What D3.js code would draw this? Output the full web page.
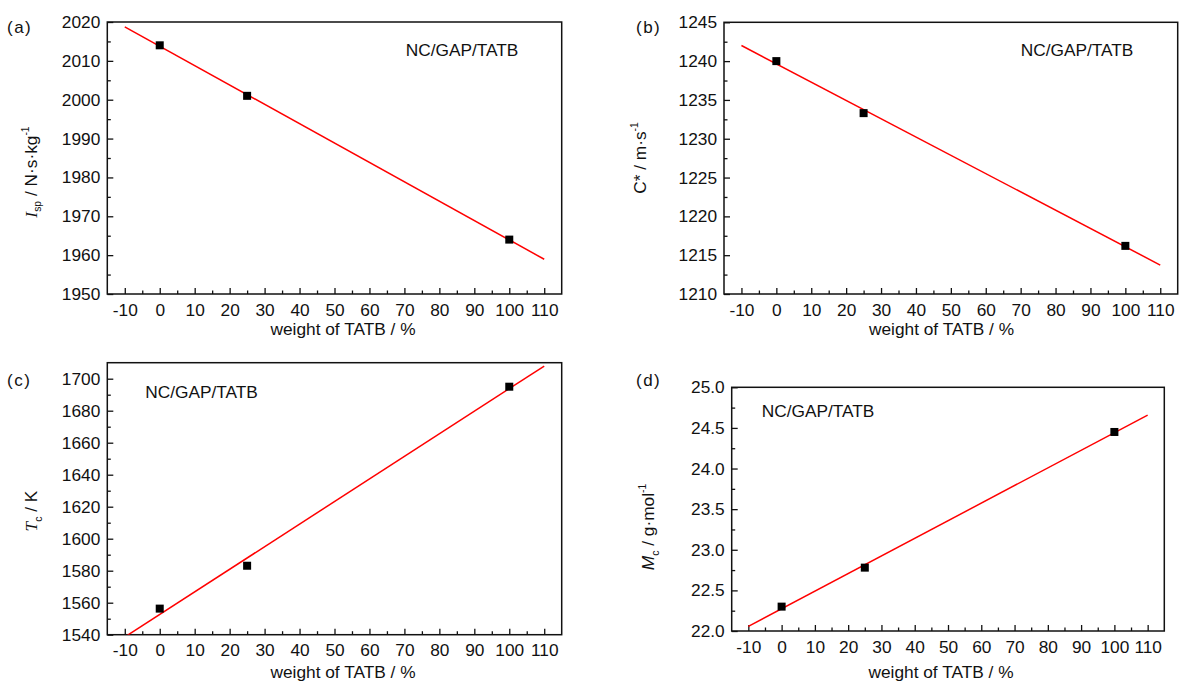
<!DOCTYPE html>
<html>
<head>
<meta charset="utf-8">
<script src="https://cdn.jsdelivr.net/npm/d3@7"></script>
<style>
  body { margin: 0; background: #fff; }
  svg text { font-family: "Liberation Sans", Arial, sans-serif; fill: #111; }
</style>
</head>
<body>
<svg id="chart" width="1179" height="686"></svg>
<script>
// data
var weights = [0, 25, 100];
var isp = [2014, 2001, 1964];
var cStar = [1240, 1233.3, 1216.2];
var tc = [1556.3, 1583.1, 1695];
var mc = [22.3, 22.78, 24.45];

var xTicks = [-10, 0, 10, 20, 30, 40, 50, 60, 70, 80, 90, 100, 110];
var xMinor = [-5, 5, 15, 25, 35, 45, 55, 65, 75, 85, 95, 105];
var fitRange = [-10, 110];

var ispTicks = [1950, 1960, 1970, 1980, 1990, 2000, 2010, 2020];
var cStarTicks = [1210, 1215, 1220, 1225, 1230, 1235, 1240, 1245];
var tcTicks = [1540, 1560, 1580, 1600, 1620, 1640, 1660, 1680, 1700];
var mcTicks = [22.0, 22.5, 23.0, 23.5, 24.0, 24.5, 25.0];

var sampleName = "NC/GAP/TATB";
var xTitle = "weight of TATB / %";

var svg = d3.select("#chart");
var fs = 17.3;

// plain hyphen for negatives, like the original
var intFmt = function(d) { return d3.format("d")(d).replace("\u2212", "-"); };

// panel layout (pixels), one per sub-figure
var panels = [
  { id: "a", tag: "(a)", values: isp, ticks: ispTicks, ydom: [1950, 2020], minorStep: 5, fmt: intFmt,
    box: [107.3, 22, 561.7, 294], tagPos: [7, 33], namePos: [462, 56], xTitleX: 343, xTitleY: 335,
    yTitlePos: [37, 172], yTitle: "isp" },
  { id: "b", tag: "(b)", values: cStar, ticks: cStarTicks, ydom: [1210, 1245], minorStep: 2.5, fmt: intFmt,
    box: [724, 22.3, 1177.7, 294], tagPos: [636, 33], namePos: [1077, 56], xTitleX: 941.5, xTitleY: 335,
    yTitlePos: [646, 158], yTitle: "cstar" },
  { id: "c", tag: "(c)", values: tc, ticks: tcTicks, ydom: [1540, 1710], minorStep: 10, fmt: intFmt,
    box: [107.3, 362.7, 561.7, 634.7], tagPos: [7, 386], namePos: [201.5, 398], xTitleX: 343, xTitleY: 678,
    yTitlePos: [37, 511], yTitle: "tc" },
  { id: "d", tag: "(d)", values: mc, ticks: mcTicks, ydom: [22, 25], minorStep: 0.25, fmt: d3.format(".1f"),
    box: [731.7, 387.3, 1164.3, 631], tagPos: [636, 386], namePos: [818, 417], xTitleX: 941, xTitleY: 678,
    yTitlePos: [654, 527], yTitle: "mc" }
];

function linFit(xs, ys) {
  var mx = d3.mean(xs), my = d3.mean(ys);
  var sxy = d3.sum(xs, function(v, i) { return (v - mx) * (ys[i] - my); });
  var sxx = d3.sum(xs, function(v) { return (v - mx) * (v - mx); });
  var b = sxy / sxx;
  return { slope: b, icept: my - b * mx };
}

function yTitleText(t, kind) {
  var small = fs * 0.6;
  if (kind === "isp") {
    t.append("tspan").attr("font-family", "Liberation Serif, serif").attr("font-style", "italic").text("I");
    t.append("tspan").attr("font-size", small).attr("dy", 4).text("sp");
    t.append("tspan").attr("dy", -4).text(" / N\u00b7s\u00b7kg");
    t.append("tspan").attr("font-size", small).attr("dy", -8).text("-1");
  } else if (kind === "cstar") {
    t.append("tspan").text("C* / m\u00b7s");
    t.append("tspan").attr("font-size", small).attr("dy", -8).text("-1");
  } else if (kind === "tc") {
    t.append("tspan").attr("font-family", "Liberation Serif, serif").attr("font-style", "italic").text("T");
    t.append("tspan").attr("font-size", small).attr("dy", 5).text("c");
    t.append("tspan").attr("dy", -5).text(" / K");
  } else {
    t.append("tspan").attr("font-style", "italic").text("M");
    t.append("tspan").attr("font-size", small).attr("dy", 5).text("c");
    t.append("tspan").attr("dy", -5).text(" / g\u00b7mol");
    t.append("tspan").attr("font-size", small).attr("dy", -8).text("-1");
  }
}

panels.forEach(function(p) {
  var L = p.box[0], T = p.box[1], R = p.box[2], B = p.box[3];
  var x = d3.scaleLinear().domain([-15, 115]).range([L, R]);
  var y = d3.scaleLinear().domain(p.ydom).range([B, T]);
  var g = svg.append("g").attr("class", "panel-" + p.id);

  // minor y ticks, halfway between majors
  var yMinor = d3.range(p.ydom[0] + p.minorStep, p.ydom[1], p.minorStep * 2);

  g.append("g").attr("transform", "translate(0," + B + ")")
    .call(d3.axisBottom(x).tickValues(xTicks).tickSize(-6).tickPadding(9.5).tickFormat(intFmt));
  g.append("g").attr("transform", "translate(0," + B + ")")
    .call(d3.axisBottom(x).tickValues(xMinor).tickSize(-3.5).tickFormat(""));
  g.append("g").attr("transform", "translate(" + L + ",0)")
    .call(d3.axisLeft(y).tickValues(p.ticks).tickSize(-6).tickPadding(7).tickFormat(p.fmt));
  g.append("g").attr("transform", "translate(" + L + ",0)")
    .call(d3.axisLeft(y).tickValues(yMinor).tickSize(-3.5).tickFormat(""));

  g.selectAll(".domain").remove();
  g.selectAll(".tick line").attr("stroke", "#111").attr("stroke-width", 1.3);
  g.selectAll(".tick text").attr("font-size", fs).attr("font-family", "Liberation Sans, Arial, sans-serif").attr("fill", "#111");

  // frame
  g.append("rect").attr("x", L).attr("y", T).attr("width", R - L).attr("height", B - T)
    .attr("fill", "none").attr("stroke", "#111").attr("stroke-width", 1.5);

  // fitted line, clipped to plot
  var clipId = "clip-" + p.id;
  svg.append("clipPath").attr("id", clipId).append("rect")
    .attr("x", L).attr("y", T).attr("width", R - L).attr("height", B - T);
  var fit = linFit(weights, p.values);
  var line = d3.line().x(function(d) { return x(d); }).y(function(d) { return y(fit.icept + fit.slope * d); });
  g.append("path").datum(fitRange).attr("d", line).attr("clip-path", "url(#" + clipId + ")")
    .attr("fill", "none").attr("stroke", "#ff0000").attr("stroke-width", 1.5);

  // points
  g.selectAll("rect.pt").data(weights).enter().append("rect").attr("class", "pt")
    .attr("x", function(d) { return x(d) - 4; })
    .attr("y", function(d, i) { return y(p.values[i]) - 4; })
    .attr("width", 8).attr("height", 8).attr("fill", "#000");

  // texts
  g.append("text").attr("x", p.namePos[0]).attr("y", p.namePos[1]).attr("text-anchor", "middle")
    .attr("font-size", fs).text(sampleName);
  g.append("text").attr("x", p.xTitleX).attr("y", p.xTitleY).attr("text-anchor", "middle")
    .attr("font-size", fs).text(xTitle);
  g.append("text").attr("x", p.tagPos[0]).attr("y", p.tagPos[1]).attr("font-size", 17)
    .attr("letter-spacing", 1.5).attr("fill", "#333").text(p.tag);
  var yt = g.append("text").attr("transform", "translate(" + p.yTitlePos[0] + "," + p.yTitlePos[1] + ") rotate(-90)")
    .attr("text-anchor", "middle").attr("font-size", fs);
  yTitleText(yt, p.yTitle);
});
</script>
</body>
</html>
